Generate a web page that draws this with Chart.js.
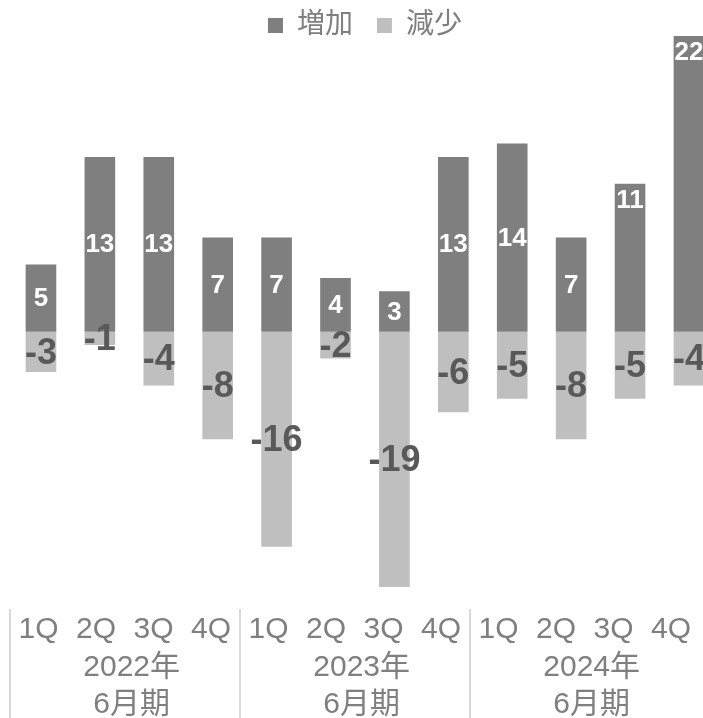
<!DOCTYPE html>
<html lang="ja">
<head>
<meta charset="utf-8">
<title>増加・減少</title>
<script src="https://cdn.jsdelivr.net/npm/chart.js@4"></script>
<style>
  html, body { margin: 0; padding: 0; overflow: hidden; background: #fff; }
  #wrap { width: 735px; height: 718px; }
</style>
</head>
<body>
<div id="wrap"><canvas id="chart" width="735" height="718"></canvas></div>
<script>
const quarters = ["1Q", "2Q", "3Q", "4Q", "1Q", "2Q", "3Q", "4Q", "1Q", "2Q", "3Q", "4Q"];
const fiscalYears = ["2022年", "2023年", "2024年"];
const fiscalSuffix = "6月期";
const increase = [5, 13, 13, 7, 7, 4, 3, 13, 14, 7, 11, 22];
const decrease = [-3, -1, -4, -8, -16, -2, -19, -6, -5, -8, -5, -4];

const FONT = "'Liberation Sans', Arial, 'Noto Sans CJK JP', sans-serif";
const TEXT_GRAY = "#7f7f7f";
// labels drawn near the top of the bar instead of the middle
const topLabels = [10, 11];

const labelPlugin = {
  id: "labels",
  afterDatasetsDraw(chart) {
    const ctx = chart.ctx;
    const x2 = chart.scales.x2;
    ctx.save();
    ctx.textAlign = "center";

    // values inside the bars
    ctx.textBaseline = "middle";
    ctx.font = "bold 26px " + FONT;
    ctx.fillStyle = "#ffffff";
    chart.getDatasetMeta(0).data.forEach((bar, i) => {
      const y = topLabels.includes(i) ? bar.y + 17 : (bar.y + bar.base) / 2 + 1;
      ctx.fillText(String(increase[i]), bar.x, y);
    });
    ctx.font = "bold 36px " + FONT;
    ctx.fillStyle = "#595959";
    chart.getDatasetMeta(1).data.forEach((bar, i) => {
      ctx.fillText(String(decrease[i]), bar.x, (bar.y + bar.base) / 2 + 2);
    });

    // category axis: quarters, fiscal years, separators
    ctx.textBaseline = "alphabetic";
    ctx.font = "30px " + FONT;
    ctx.fillStyle = TEXT_GRAY;
    quarters.forEach((q, i) => {
      ctx.fillText(q, x2.getPixelForValue(i), 638);
    });
    fiscalYears.forEach((yr, g) => {
      const cx = x2.getPixelForValue(g * 4 + 1.62);
      ctx.fillText(yr, cx, 676);
      ctx.fillText(fiscalSuffix, cx, 713);
    });
    ctx.strokeStyle = "#d9d9d9";
    ctx.lineWidth = 2;
    fiscalYears.forEach((yr, g) => {
      const sx = Math.round(x2.getPixelForValue(g * 4 - 0.5));
      ctx.beginPath();
      ctx.moveTo(sx, 609);
      ctx.lineTo(sx, 718);
      ctx.stroke();
    });
    ctx.restore();
  }
};

new Chart(document.getElementById("chart").getContext("2d"), {
  type: "bar",
  data: {
    labels: quarters,
    datasets: [
      { label: "増加", data: increase, backgroundColor: "#7f7f7f", borderWidth: 0 },
      { label: "減少", data: decrease, backgroundColor: "#bfbfbf", borderWidth: 0 }
    ]
  },
  options: {
    responsive: false,
    animation: false,
    layout: { padding: { top: -12.5, left: 11.5, right: 16.6, bottom: 131 } },
    datasets: { bar: { categoryPercentage: 1, barPercentage: 0.52 } },
    plugins: {
      legend: {
        position: "top",
        maxHeight: 48.5,
        labels: {
          font: { size: 28, family: FONT },
          color: TEXT_GRAY,
          boxWidth: 15,
          boxHeight: 15,
          padding: 24
        }
      },
      tooltip: { enabled: false }
    },
    scales: {
      x: { stacked: true, display: false, grid: { display: false } },
      x2: {
        type: "linear", display: false, bounds: "data", offset: false,
        min: -0.4696, max: 11.824,
        grid: { offset: false },
        ticks: { includeBounds: false }
      },
      y: { stacked: true, display: false, min: -19, max: 22 }
    }
  },
  plugins: [labelPlugin]
});
</script>
</body>
</html>
